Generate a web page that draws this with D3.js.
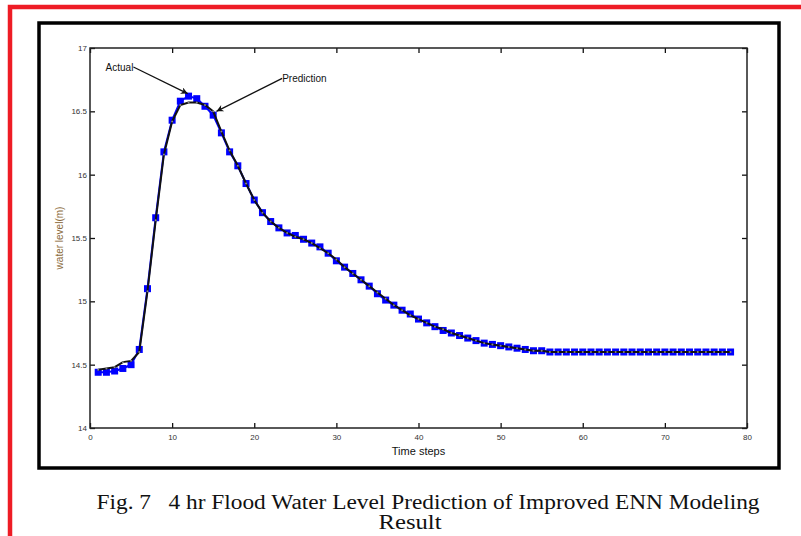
<!DOCTYPE html>
<html>
<head>
<meta charset="utf-8">
<script src="https://cdn.jsdelivr.net/npm/d3@7"></script>
<style>
  body { margin: 0; background: #fff; }
  svg { display: block; }
</style>
</head>
<body>
<div class="container"></div>
<script>
const steps = d3.range(1, 79)

const actual = [14.44, 14.44, 14.45, 14.47, 14.50, 14.62, 15.10, 15.66, 16.18, 16.43,
  16.58, 16.62, 16.60, 16.54, 16.47, 16.33, 16.18, 16.07, 15.93, 15.80,
  15.70, 15.63, 15.58, 15.54, 15.52, 15.49, 15.46, 15.43, 15.38, 15.32,
  15.27, 15.22, 15.17, 15.12, 15.06, 15.01, 14.97, 14.93, 14.90, 14.86,
  14.83, 14.80, 14.77, 14.75, 14.73, 14.71, 14.69, 14.67, 14.66, 14.65,
  14.64, 14.63, 14.62, 14.61, 14.61, 14.60, 14.60, 14.60, 14.60, 14.60,
  14.60, 14.60, 14.60, 14.60, 14.60, 14.60, 14.60, 14.60, 14.60, 14.60,
  14.60, 14.60, 14.60, 14.60, 14.60, 14.60, 14.60, 14.60]

const prediction = [14.46, 14.47, 14.48, 14.52, 14.53, 14.60, 15.08, 15.64, 16.16, 16.42,
  16.55, 16.57, 16.57, 16.55, 16.50, 16.34, 16.19, 16.07, 15.93, 15.80,
  15.70, 15.63, 15.58, 15.54, 15.51, 15.49, 15.46, 15.42, 15.38, 15.33,
  15.27, 15.22, 15.17, 15.12, 15.07, 15.02, 14.97, 14.93, 14.89, 14.86,
  14.83, 14.80, 14.78, 14.75, 14.73, 14.71, 14.69, 14.67, 14.66, 14.65,
  14.64, 14.63, 14.62, 14.61, 14.61, 14.60, 14.60, 14.60, 14.60, 14.60,
  14.60, 14.60, 14.60, 14.60, 14.60, 14.60, 14.60, 14.60, 14.60, 14.60,
  14.60, 14.60, 14.60, 14.60, 14.60, 14.60, 14.60, 14.60]

const xTicks = [0, 10, 20, 30, 40, 50, 60, 70, 80]
const yTicks = [14, 14.5, 15, 15.5, 16, 16.5, 17]

// label, text position (t, v), arrow tip (t, v)
const notes = [
  ['Actual', 1.9, 16.85, 11.9, 16.64],
  ['Prediction', 23.4, 16.76, 15.4, 16.50]
]

const width = 801
const height = 536
const plot = {left: 90, right: 747, top: 48, bottom: 428}

const svg = d3.select('.container')
  .append('svg')
  .attr('width', width)
  .attr('height', height)

svg.append('defs').append('marker')
  .attr('id', 'arrow')
  .attr('viewBox', '0 0 10 10')
  .attr('refX', 10).attr('refY', 5)
  .attr('markerWidth', 9).attr('markerHeight', 7)
  .attr('markerUnits', 'userSpaceOnUse')
  .attr('orient', 'auto')
  .append('path')
  .attr('d', 'M0,0 L10,5 L0,10 L3,5 Z')
  .attr('fill', '#111')

// red page border and black figure frame
svg.append('path')
  .attr('d', `M10,${height + 5} V7 H${width + 5}`)
  .attr('fill', 'none')
  .attr('stroke', '#ee1c25')
  .attr('stroke-width', 4.5)

svg.append('rect')
  .attr('x', 39).attr('y', 23)
  .attr('width', 740).attr('height', 445)
  .attr('fill', 'none')
  .attr('stroke', '#000')
  .attr('stroke-width', 3.5)

const x = d3.scaleLinear().domain([0, 80]).range([plot.left, plot.right])
const y = d3.scaleLinear().domain([14, 17]).range([plot.bottom, plot.top])

const fmt = d => String(d)

function styleAxis(g) {
  g.select('.domain').remove()
  g.selectAll('.tick line').attr('stroke', '#111').attr('stroke-width', 1.3)
  g.selectAll('.tick text')
    .attr('fill', '#333')
    .style('font-family', 'Liberation Sans, Arial, sans-serif')
    .style('font-size', '8px')
}

svg.append('g')
  .attr('transform', `translate(0,${plot.bottom})`)
  .call(d3.axisBottom(x).tickValues(xTicks).tickFormat(fmt).tickSizeInner(-5).tickSizeOuter(0).tickPadding(6))
  .call(styleAxis)

svg.append('g')
  .attr('transform', `translate(0,${plot.top})`)
  .call(d3.axisTop(x).tickValues(xTicks).tickFormat('').tickSizeInner(-5).tickSizeOuter(0))
  .call(styleAxis)

svg.append('g')
  .attr('transform', `translate(${plot.left},0)`)
  .call(d3.axisLeft(y).tickValues(yTicks).tickFormat(fmt).tickSizeInner(-5).tickSizeOuter(0).tickPadding(3))
  .call(styleAxis)

svg.append('g')
  .attr('transform', `translate(${plot.right},0)`)
  .call(d3.axisRight(y).tickValues(yTicks).tickFormat('').tickSizeInner(-5).tickSizeOuter(0))
  .call(styleAxis)

svg.append('rect')
  .attr('x', plot.left).attr('y', plot.top)
  .attr('width', plot.right - plot.left).attr('height', plot.bottom - plot.top)
  .attr('fill', 'none')
  .attr('stroke', '#222')
  .attr('stroke-width', 1.5)

// series
const actualPts = steps.map((t, i) => [t, actual[i]])
const predPts = steps.map((t, i) => [t, prediction[i]])
const line = d3.line().x(d => x(d[0])).y(d => y(d[1]))

svg.append('path')
  .datum(actualPts)
  .attr('d', line)
  .attr('fill', 'none')
  .attr('stroke', '#0000ff')
  .attr('stroke-width', 2)

svg.selectAll('.sq')
  .data(actualPts)
  .join('rect')
  .attr('class', 'sq')
  .attr('x', d => x(d[0]) - 3.5)
  .attr('y', d => y(d[1]) - 3.5)
  .attr('width', 7).attr('height', 7)
  .attr('fill', '#0000ff')

svg.append('path')
  .datum(predPts)
  .attr('d', line)
  .attr('fill', 'none')
  .attr('stroke', '#111')
  .attr('stroke-width', 2)

svg.selectAll('.dot')
  .data(predPts)
  .join('circle')
  .attr('class', 'dot')
  .attr('cx', d => x(d[0]))
  .attr('cy', d => y(d[1]))
  .attr('r', 1)
  .attr('fill', '#888')

// annotations
notes.forEach(([label, tx, ty, ax, ay]) => {
  const t = svg.append('text')
    .attr('x', x(tx))
    .attr('y', y(ty))
    .attr('dy', '0.35em')
    .style('font-family', 'Liberation Sans, Arial, sans-serif')
    .style('font-size', '10px')
    .attr('fill', '#111')
    .text(label)
  const w = t.node().getComputedTextLength()
  svg.append('line')
    .attr('x1', x(tx) + (label === 'Actual' ? w : 0))
    .attr('y1', y(ty))
    .attr('x2', x(ax))
    .attr('y2', y(ay))
    .attr('stroke', '#111')
    .attr('stroke-width', 1.3)
    .attr('marker-end', 'url(#arrow)')
})

// axis titles
svg.append('text')
  .attr('x', (plot.left + plot.right) / 2)
  .attr('y', 455)
  .attr('text-anchor', 'middle')
  .style('font-family', 'Liberation Sans, Arial, sans-serif')
  .style('font-size', '11px')
  .attr('fill', '#111')
  .text('Time steps')

svg.append('text')
  .attr('transform', `translate(63,${(plot.top + plot.bottom) / 2}) rotate(-90)`)
  .attr('text-anchor', 'middle')
  .style('font-family', 'Liberation Sans, Arial, sans-serif')
  .style('font-size', '10px')
  .attr('fill', '#8a6a3a')
  .text('water level(m)')

// caption
const capStyle = t => t
  .attr('text-anchor', 'middle')
  .style('font-family', 'Liberation Serif, Times New Roman, serif')
  .style('font-size', '20px')
  .attr('fill', '#111')

svg.append('text').call(capStyle)
  .attr('x', 428).attr('y', 509)
  .attr('xml:space', 'preserve')
  .attr('textLength', 663)
  .attr('lengthAdjust', 'spacingAndGlyphs')
  .text('Fig. 7   4 hr Flood Water Level Prediction of Improved ENN Modeling')

svg.append('text').call(capStyle)
  .attr('x', 410).attr('y', 529)
  .attr('textLength', 63)
  .attr('lengthAdjust', 'spacingAndGlyphs')
  .text('Result')
</script>
</body>
</html>
